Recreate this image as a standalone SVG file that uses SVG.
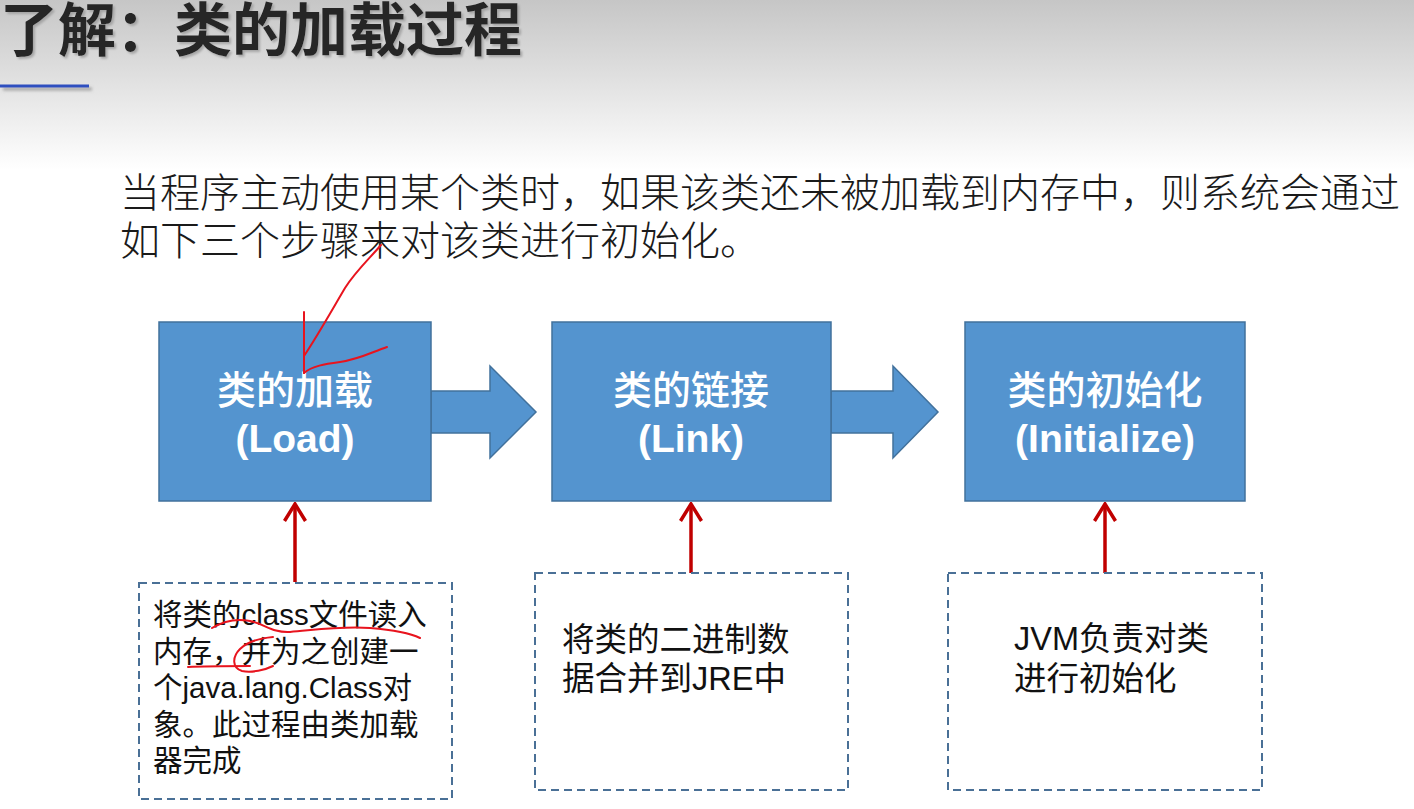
<svg xmlns="http://www.w3.org/2000/svg" width="1414" height="809" viewBox="0 0 1414 809">
  <defs>
    <linearGradient id="bg" x1="0" y1="0" x2="0" y2="1">
      <stop offset="0" stop-color="#c6c6c6"/>
      <stop offset="1" stop-color="#ffffff"/>
    </linearGradient>
    <filter id="tshadow" x="-5%" y="-20%" width="110%" height="140%">
      <feDropShadow dx="2" dy="2" stdDeviation="1" flood-color="#9a9a9a" flood-opacity="0.8"/>
    </filter>
    <filter id="lshadow" x="-10%" y="-200%" width="120%" height="500%">
      <feDropShadow dx="3" dy="3" stdDeviation="1.5" flood-color="#777" flood-opacity="0.6"/>
    </filter>
    <marker id="redhead" viewBox="0 0 20 24" refX="18" refY="12" markerWidth="20" markerHeight="24" markerUnits="userSpaceOnUse" orient="auto">
      <path d="M1,1.5 L18,12 L1,22.5" fill="none" stroke="#c00000" stroke-width="3.5" stroke-linejoin="miter"/>
    </marker>
    <style>
      .title { font-family: "Noto Sans CJK SC", sans-serif; font-weight: bold; font-size: 58px; fill: #262626; }
      .body { font-family: "Noto Sans CJK SC", sans-serif; font-weight: 300; font-size: 40px; fill: #1a1a1a; }
      .step { fill: #5494cf; stroke: #41719c; stroke-width: 1.5; }
      .stepcn { font-family: "Noto Sans CJK SC", sans-serif; font-weight: 500; font-size: 39px; fill: #ffffff; text-anchor: middle; }
      .stepen { font-family: "Liberation Sans", "Noto Sans CJK SC", sans-serif; font-weight: bold; font-size: 39px; fill: #ffffff; text-anchor: middle; }
      .note { fill: none; stroke: #4a7096; stroke-width: 2; stroke-dasharray: 8 5; }
      .notetxt { font-family: "Liberation Sans", "Noto Sans CJK SC", sans-serif; fill: #111111; }
      .red { stroke: #c00000; stroke-width: 3.5; fill: none; }
      .ink { stroke: #e8141e; stroke-width: 2; fill: none; stroke-linecap: round; stroke-linejoin: round; }
    </style>
  </defs>

  <rect x="0" y="0" width="1414" height="809" fill="#ffffff"/>
  <rect x="0" y="0" width="1414" height="170" fill="url(#bg)"/>

  <g id="title">
    <text class="title" x="0" y="51" filter="url(#tshadow)">了解：类的加载过程</text>
    <rect x="0" y="84.5" width="89" height="3" fill="#2f4fbf" filter="url(#lshadow)"/>
  </g>

  <g id="intro">
    <text class="body" x="120" y="207">当程序主动使用某个类时，如果该类还未被加载到内存中，则系统会通过</text>
    <text class="body" x="120" y="255">如下三个步骤来对该类进行初始化。</text>
  </g>

  <g id="connectors">
    <path class="step" d="M431,391 H490 V366 L536,412 L490,458 V433 H431 Z"/>
    <path class="step" d="M831,391 H893 V366 L938,412 L893,458 V433 H831 Z"/>
    <line class="red" x1="295" y1="582" x2="295" y2="504" marker-end="url(#redhead)"/>
    <line class="red" x1="691" y1="573" x2="691" y2="504" marker-end="url(#redhead)"/>
    <line class="red" x1="1105" y1="573" x2="1105" y2="504" marker-end="url(#redhead)"/>
  </g>

  <g id="load">
    <rect class="step" x="159" y="322" width="272" height="179"/>
    <text class="stepcn" x="295" y="404">类的加载</text>
    <text class="stepen" x="295" y="452">(Load)</text>
  </g>

  <g id="link">
    <rect class="step" x="552" y="322" width="279" height="179"/>
    <text class="stepcn" x="691" y="404">类的链接</text>
    <text class="stepen" x="691" y="452">(Link)</text>
  </g>

  <g id="initialize">
    <rect class="step" x="965" y="322" width="280" height="179"/>
    <text class="stepcn" x="1105" y="404">类的初始化</text>
    <text class="stepen" x="1105" y="452">(Initialize)</text>
  </g>

  <g id="note-load">
    <rect class="note" x="139" y="583" width="313" height="216"/>
    <text class="notetxt" font-size="29.5">
      <tspan x="153" y="625">将类的class文件读入</tspan>
      <tspan x="153" y="662">内存，并为之创建一</tspan>
      <tspan x="153" y="698">个java.lang.Class对</tspan>
      <tspan x="153" y="735">象。此过程由类加载</tspan>
      <tspan x="153" y="771">器完成</tspan>
    </text>
  </g>

  <g id="note-link">
    <rect class="note" x="535" y="573" width="313" height="217"/>
    <text class="notetxt" font-size="32.5">
      <tspan x="562" y="651">将类的二进制数</tspan>
      <tspan x="562" y="690">据合并到JRE中</tspan>
    </text>
  </g>

  <g id="note-init">
    <rect class="note" x="948" y="573" width="314" height="217"/>
    <text class="notetxt" font-size="32.5">
      <tspan x="1014" y="650">JVM负责对类</tspan>
      <tspan x="1014" y="690">进行初始化</tspan>
    </text>
  </g>

  <g id="annotations">
    <path class="ink" d="M304,312 L304,373"/>
    <path class="ink" d="M381,245 C370,258 355,272 345,288 C332,310 318,335 304,356"/>
    <path class="ink" d="M304,373 C312,366 325,364 340,362 C360,359 372,352 387,347"/>
    <path class="ink" d="M212,628 C222,622 235,618 250,621 C265,624 272,633 290,632 C315,630 340,626 370,628 C395,630 410,633 420,638"/>
    <path class="ink" d="M188,667 C205,666 230,666 250,666"/>
    <path class="ink" d="M273,637 C262,638 248,641 240,649 C232,657 232,668 242,671 C252,673 265,670 273,666"/>
  </g>
</svg>
